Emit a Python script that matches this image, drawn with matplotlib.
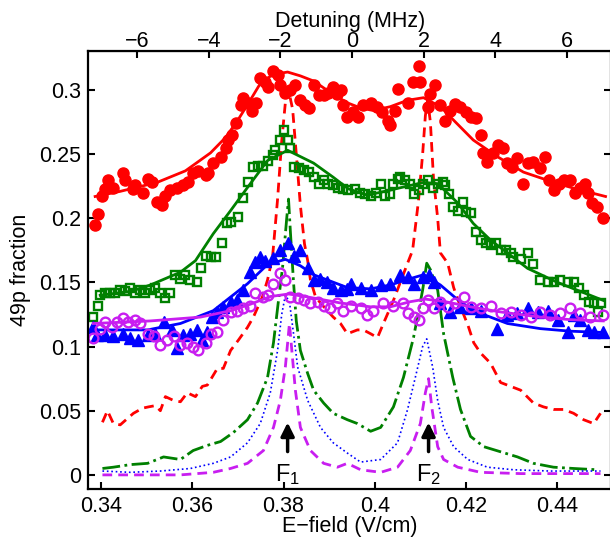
import numpy as np
import matplotlib
matplotlib.use("Agg")
import matplotlib.pyplot as plt

matplotlib.rcParams["font.family"] = ["Liberation Sans", "DejaVu Sans"]
matplotlib.rcParams["font.size"] = 15.5
matplotlib.rcParams["mathtext.default"] = "regular"

# red filled circles (data) and fit
red_x = [0.3387, 0.3394, 0.3403, 0.3409, 0.3416, 0.3427, 0.3447, 0.3453, 0.3469, 0.3475,
         0.3491, 0.3502, 0.3512, 0.3523, 0.3534, 0.3541, 0.3552, 0.3567, 0.3580, 0.3591,
         0.3602, 0.3613, 0.3629, 0.3635, 0.3646, 0.3662, 0.3673, 0.3679, 0.3688, 0.3695,
         0.3706, 0.3712, 0.3723, 0.3732, 0.3739, 0.3749, 0.3760, 0.3767, 0.3778, 0.3787,
         0.3793, 0.3804, 0.3815, 0.3826, 0.3837, 0.3848, 0.3855, 0.3866, 0.3877, 0.3888,
         0.3898, 0.3909, 0.3918, 0.3925, 0.3931, 0.3940, 0.3953, 0.3964, 0.3975, 0.3991,
         0.4006, 0.4017, 0.4028, 0.4034, 0.4045, 0.4052, 0.4072, 0.4083, 0.4096, 0.4100,
         0.4116, 0.4122, 0.4133, 0.4144, 0.4155, 0.4166, 0.4177, 0.4188, 0.4199, 0.4210,
         0.4221, 0.4232, 0.4238, 0.4247, 0.4260, 0.4271, 0.4282, 0.4291, 0.4302, 0.4313,
         0.4326, 0.4337, 0.4348, 0.4363, 0.4374, 0.4381, 0.4392, 0.4403, 0.4414, 0.4429,
         0.4440, 0.4451, 0.4462, 0.4468, 0.4477, 0.4488, 0.4501]
red_y = [0.195, 0.203, 0.217, 0.223, 0.230, 0.224, 0.235, 0.230, 0.223, 0.226,
         0.220, 0.231, 0.228, 0.213, 0.210, 0.217, 0.222, 0.224, 0.226, 0.228,
         0.235, 0.237, 0.234, 0.235, 0.243, 0.248, 0.255, 0.261, 0.265, 0.274,
         0.288, 0.294, 0.290, 0.284, 0.290, 0.309, 0.306, 0.302, 0.315, 0.312,
         0.304, 0.298, 0.300, 0.304, 0.292, 0.288, 0.286, 0.304, 0.296, 0.296,
         0.298, 0.302, 0.297, 0.300, 0.288, 0.279, 0.283, 0.279, 0.288, 0.290,
         0.287, 0.283, 0.276, 0.273, 0.284, 0.301, 0.290, 0.306, 0.319, 0.306,
         0.287, 0.297, 0.304, 0.288, 0.276, 0.284, 0.289, 0.287, 0.283, 0.279,
         0.278, 0.265, 0.251, 0.244, 0.251, 0.257, 0.255, 0.243, 0.240, 0.247,
         0.227, 0.243, 0.244, 0.239, 0.248, 0.230, 0.222, 0.227, 0.230, 0.230,
         0.220, 0.224, 0.227, 0.220, 0.212, 0.209, 0.200]
red_fit_x = [0.3387, 0.3442, 0.3523, 0.3585, 0.3640, 0.3673, 0.3699, 0.3727, 0.3749, 0.3776,
             0.3809, 0.3837, 0.3866, 0.3903, 0.3940, 0.3969, 0.3997, 0.4034, 0.4072, 0.4107,
             0.4144, 0.4177, 0.4216, 0.4269, 0.4326, 0.4401, 0.4451, 0.4506]
red_fit_y = [0.217, 0.221, 0.228, 0.237, 0.251, 0.263, 0.276, 0.292, 0.305, 0.312,
             0.314, 0.311, 0.307, 0.298, 0.290, 0.286, 0.284, 0.287, 0.292, 0.294,
             0.287, 0.275, 0.261, 0.248, 0.236, 0.227, 0.222, 0.217]

# green open squares and fit
grn_x = [0.3383, 0.3394, 0.3398, 0.3409, 0.3420, 0.3431, 0.3442, 0.3453, 0.3464, 0.3475,
         0.3486, 0.3497, 0.3508, 0.3519, 0.3530, 0.3541, 0.3552, 0.3563, 0.3574, 0.3585,
         0.3596, 0.3611, 0.3618, 0.3629, 0.3640, 0.3651, 0.3666, 0.3677, 0.3684, 0.3701,
         0.3712, 0.3723, 0.3734, 0.3745, 0.3756, 0.3767, 0.3776, 0.3782, 0.3793, 0.3800,
         0.3809, 0.3815, 0.3822, 0.3833, 0.3844, 0.3855, 0.3866, 0.3877, 0.3888, 0.3898,
         0.3909, 0.3920, 0.3931, 0.3942, 0.3957, 0.3968, 0.3979, 0.3991, 0.4002, 0.4013,
         0.4023, 0.4034, 0.4041, 0.4050, 0.4056, 0.4067, 0.4078, 0.4085, 0.4096, 0.4105,
         0.4116, 0.4127, 0.4138, 0.4149, 0.4155, 0.4162, 0.4171, 0.4182, 0.4193, 0.4199,
         0.4210, 0.4221, 0.4232, 0.4243, 0.4254, 0.4265, 0.4276, 0.4287, 0.4298, 0.4304,
         0.4320, 0.4337, 0.4346, 0.4363, 0.4379, 0.4392, 0.4407, 0.4423, 0.4436, 0.4447,
         0.4458, 0.4469, 0.4480, 0.4489, 0.4495]
grn_y = [0.123, 0.132, 0.140, 0.142, 0.142, 0.142, 0.144, 0.143, 0.146, 0.142,
         0.144, 0.142, 0.144, 0.146, 0.142, 0.138, 0.142, 0.156, 0.153, 0.156,
         0.152, 0.150, 0.161, 0.171, 0.170, 0.170, 0.181, 0.196, 0.197, 0.201,
         0.216, 0.228, 0.240, 0.241, 0.241, 0.245, 0.249, 0.253, 0.261, 0.269,
         0.261, 0.255, 0.240, 0.239, 0.238, 0.236, 0.232, 0.227, 0.230, 0.227,
         0.226, 0.224, 0.223, 0.222, 0.223, 0.220, 0.219, 0.217, 0.220, 0.227,
         0.217, 0.219, 0.227, 0.231, 0.232, 0.230, 0.227, 0.219, 0.222, 0.227,
         0.230, 0.224, 0.227, 0.228, 0.226, 0.219, 0.209, 0.206, 0.213, 0.205,
         0.204, 0.189, 0.183, 0.181, 0.179, 0.181, 0.175, 0.175, 0.173, 0.170,
         0.168, 0.173, 0.164, 0.152, 0.150, 0.150, 0.152, 0.150, 0.150, 0.146,
         0.140, 0.135, 0.134, 0.127, 0.134]
grn_fit_x = [0.3398, 0.3464, 0.3508, 0.3574, 0.3607, 0.3646, 0.3684, 0.3721, 0.3765, 0.3809,
             0.3866, 0.3909, 0.3942, 0.3984, 0.4034, 0.4107, 0.4138, 0.4182, 0.4216, 0.4254,
             0.4291, 0.4335, 0.4401, 0.4501]
grn_fit_y = [0.140, 0.143, 0.148, 0.158, 0.167, 0.188, 0.206, 0.224, 0.245, 0.253,
             0.243, 0.232, 0.223, 0.218, 0.222, 0.228, 0.227, 0.212, 0.196, 0.183,
             0.173, 0.161, 0.150, 0.136]

# blue filled triangles and fit
blu_x = [0.3383, 0.3392, 0.3409, 0.3427, 0.3447, 0.3464, 0.3482, 0.3502, 0.3519, 0.3537,
         0.3556, 0.3567, 0.3580, 0.3596, 0.3611, 0.3622, 0.3633, 0.3644, 0.3655, 0.3668,
         0.3684, 0.3699, 0.3712, 0.3727, 0.3738, 0.3749, 0.3760, 0.3776, 0.3793, 0.3809,
         0.3822, 0.3837, 0.3853, 0.3866, 0.3881, 0.3896, 0.3909, 0.3925, 0.3940, 0.3947,
         0.3969, 0.3991, 0.4013, 0.4034, 0.4056, 0.4072, 0.4085, 0.4105, 0.4118, 0.4129,
         0.4144, 0.4166, 0.4188, 0.4210, 0.4232, 0.4269, 0.4291, 0.4313, 0.4335, 0.4357,
         0.4379, 0.4401, 0.4423, 0.4436, 0.4451, 0.4467, 0.4480, 0.4501]
blu_y = [0.115, 0.109, 0.109, 0.108, 0.110, 0.107, 0.105, 0.109, 0.110, 0.119,
         0.113, 0.099, 0.109, 0.110, 0.113, 0.105, 0.111, 0.123, 0.127, 0.131,
         0.135, 0.136, 0.144, 0.158, 0.166, 0.170, 0.167, 0.169, 0.175, 0.181,
         0.171, 0.175, 0.161, 0.152, 0.153, 0.150, 0.146, 0.144, 0.145, 0.149,
         0.146, 0.144, 0.148, 0.149, 0.156, 0.154, 0.149, 0.154, 0.156, 0.150,
         0.134, 0.127, 0.131, 0.130, 0.128, 0.114, 0.125, 0.126, 0.130, 0.127,
         0.128, 0.121, 0.111, 0.125, 0.121, 0.113, 0.111, 0.111]
blu_fit_x = [0.3383, 0.3502, 0.3574, 0.3646, 0.3721, 0.3765, 0.3804, 0.3837, 0.3866, 0.3940,
             0.3991, 0.4034, 0.4078, 0.4107, 0.4144, 0.4177, 0.4216, 0.4291, 0.4363, 0.4429,
             0.4501]
blu_fit_y = [0.113, 0.113, 0.118, 0.128, 0.149, 0.164, 0.168, 0.163, 0.156, 0.146,
             0.145, 0.148, 0.153, 0.156, 0.148, 0.138, 0.128, 0.118, 0.114, 0.112,
             0.111]

# magenta open circles and fit
mag_x = [0.3383, 0.3398, 0.3409, 0.3425, 0.3436, 0.3447, 0.3458, 0.3475, 0.3486, 0.3502,
         0.3515, 0.3530, 0.3545, 0.3559, 0.3574, 0.3589, 0.3602, 0.3613, 0.3629, 0.3640,
         0.3655, 0.3668, 0.3684, 0.3699, 0.3712, 0.3727, 0.3738, 0.3754, 0.3767, 0.3778,
         0.3793, 0.3804, 0.3815, 0.3831, 0.3844, 0.3859, 0.3875, 0.3888, 0.3903, 0.3918,
         0.3931, 0.3947, 0.3969, 0.3984, 0.3997, 0.4019, 0.4041, 0.4061, 0.4072, 0.4085,
         0.4096, 0.4105, 0.4116, 0.4129, 0.4144, 0.4160, 0.4177, 0.4195, 0.4210, 0.4232,
         0.4254, 0.4276, 0.4298, 0.4320, 0.4342, 0.4363, 0.4385, 0.4407, 0.4429, 0.4451,
         0.4473, 0.4501]
mag_y = [0.107, 0.114, 0.119, 0.115, 0.119, 0.122, 0.119, 0.121, 0.118, 0.110,
         0.108, 0.101, 0.105, 0.108, 0.101, 0.103, 0.100, 0.097, 0.103, 0.110,
         0.111, 0.121, 0.127, 0.128, 0.130, 0.132, 0.142, 0.139, 0.140, 0.149,
         0.157, 0.152, 0.139, 0.138, 0.136, 0.134, 0.135, 0.132, 0.130, 0.134,
         0.128, 0.132, 0.130, 0.125, 0.128, 0.134, 0.132, 0.134, 0.126, 0.123,
         0.121, 0.130, 0.136, 0.130, 0.135, 0.131, 0.134, 0.139, 0.131, 0.130,
         0.132, 0.126, 0.127, 0.125, 0.123, 0.127, 0.125, 0.126, 0.130, 0.126,
         0.123, 0.125]
mag_fit_x = [0.3383, 0.3508, 0.3618, 0.3684, 0.3727, 0.3771, 0.3811, 0.3848, 0.3925, 0.3991,
             0.4034, 0.4078, 0.4111, 0.4155, 0.4210, 0.4276, 0.4363, 0.4429, 0.4501]
mag_fit_y = [0.118, 0.120, 0.123, 0.128, 0.133, 0.139, 0.141, 0.139, 0.134, 0.131,
             0.131, 0.135, 0.137, 0.135, 0.131, 0.127, 0.123, 0.121, 0.120]

# simulated spectra (lower curves)
rd_x = [0.3403, 0.3414, 0.3427, 0.3442, 0.3458, 0.3471, 0.3491, 0.3504, 0.3519, 0.3530,
        0.3541, 0.3559, 0.3574, 0.3589, 0.3607, 0.3622, 0.3633, 0.3655, 0.3668, 0.3684,
        0.3701, 0.3721, 0.3734, 0.3754, 0.3765, 0.3776, 0.3787, 0.3796, 0.3804, 0.3811,
        0.3820, 0.3828, 0.3837, 0.3846, 0.3853, 0.3859, 0.3870, 0.3881, 0.3896, 0.3909,
        0.3925, 0.3940, 0.3962, 0.3975, 0.3991, 0.4006, 0.4019, 0.4041, 0.4056, 0.4072,
        0.4083, 0.4096, 0.4105, 0.4111, 0.4116, 0.4122, 0.4129, 0.4138, 0.4144, 0.4160,
        0.4173, 0.4188, 0.4204, 0.4217, 0.4232, 0.4254, 0.4276, 0.4298, 0.4320, 0.4348,
        0.4370, 0.4392, 0.4414, 0.4436, 0.4458, 0.4480, 0.4495]
rd_y = [0.041, 0.050, 0.040, 0.039, 0.044, 0.048, 0.052, 0.053, 0.054, 0.050,
        0.061, 0.058, 0.057, 0.064, 0.061, 0.069, 0.070, 0.083, 0.083, 0.097,
        0.105, 0.115, 0.123, 0.139, 0.152, 0.170, 0.215, 0.260, 0.290, 0.300,
        0.285, 0.250, 0.210, 0.180, 0.167, 0.152, 0.139, 0.134, 0.128, 0.123,
        0.118, 0.110, 0.113, 0.113, 0.110, 0.107, 0.118, 0.136, 0.150, 0.165,
        0.175, 0.214, 0.250, 0.280, 0.292, 0.275, 0.230, 0.200, 0.173, 0.165,
        0.146, 0.131, 0.117, 0.103, 0.095, 0.087, 0.072, 0.069, 0.066, 0.056,
        0.053, 0.051, 0.051, 0.048, 0.043, 0.040, 0.048]

gd_x = [0.3403, 0.3427, 0.3464, 0.3502, 0.3537, 0.3574, 0.3602, 0.3633, 0.3662, 0.3690,
        0.3721, 0.3743, 0.3765, 0.3778, 0.3789, 0.3798, 0.3807, 0.3811, 0.3815, 0.3822,
        0.3828, 0.3837, 0.3853, 0.3866, 0.3888, 0.3909, 0.3940, 0.3962, 0.3991, 0.4013,
        0.4041, 0.4063, 0.4085, 0.4105, 0.4114, 0.4122, 0.4138, 0.4151, 0.4171, 0.4188,
        0.4210, 0.4239, 0.4276, 0.4313, 0.4348, 0.4392, 0.4436, 0.4488]
gd_y = [0.005, 0.006, 0.008, 0.009, 0.014, 0.012, 0.019, 0.023, 0.026, 0.033,
        0.043, 0.056, 0.076, 0.103, 0.136, 0.162, 0.200, 0.215, 0.190, 0.150,
        0.120, 0.097, 0.079, 0.066, 0.056, 0.048, 0.043, 0.040, 0.034, 0.037,
        0.053, 0.076, 0.107, 0.144, 0.165, 0.160, 0.144, 0.110, 0.076, 0.051,
        0.030, 0.022, 0.018, 0.014, 0.009, 0.006, 0.005, 0.004]

bd_x = [0.3403, 0.3464, 0.3530, 0.3596, 0.3646, 0.3684, 0.3721, 0.3749, 0.3771, 0.3787,
        0.3796, 0.3804, 0.3813, 0.3822, 0.3831, 0.3853, 0.3881, 0.3909, 0.3940, 0.3969,
        0.4013, 0.4050, 0.4072, 0.4089, 0.4105, 0.4114, 0.4127, 0.4138, 0.4151, 0.4173,
        0.4204, 0.4247, 0.4304, 0.4385, 0.4495]
bd_y = [0.003, 0.002, 0.003, 0.005, 0.009, 0.014, 0.025, 0.040, 0.064, 0.097,
        0.125, 0.140, 0.135, 0.110, 0.084, 0.058, 0.037, 0.025, 0.017, 0.010,
        0.012, 0.025, 0.051, 0.076, 0.100, 0.106, 0.084, 0.058, 0.037, 0.022,
        0.012, 0.006, 0.004, 0.003, 0.003]

md_x = [0.3403, 0.3502, 0.3574, 0.3646, 0.3684, 0.3721, 0.3756, 0.3778, 0.3793, 0.3804,
        0.3813, 0.3820, 0.3826, 0.3837, 0.3859, 0.3888, 0.3918, 0.3940, 0.3969, 0.4013,
        0.4050, 0.4078, 0.4100, 0.4111, 0.4118, 0.4125, 0.4138, 0.4151, 0.4182, 0.4232,
        0.4320, 0.4407, 0.4495]
md_y = [0.000, 0.000, 0.000, 0.002, 0.005, 0.009, 0.019, 0.037, 0.058, 0.084,
        0.118, 0.090, 0.066, 0.037, 0.019, 0.009, 0.006, 0.009, 0.004, 0.002,
        0.006, 0.019, 0.040, 0.064, 0.075, 0.053, 0.022, 0.012, 0.006, 0.002,
        0.001, 0.001, 0.001]

# resonance markers
f_pos = [0.3809, 0.4118]
f_names = ["F$_1$", "F$_2$"]

RED = "#ff0000"
GREEN = "#008000"
BLUE = "#0000ff"
MAG = "#c81ef0"

fig = plt.figure(figsize=(6.1, 5.42), dpi=100)
ax = fig.add_axes([88.3 / 610, 53 / 542, 522.7 / 610, 438 / 542])

ax.plot(rd_x, rd_y, color=RED, lw=2, dashes=(3.5, 2.2))
ax.plot(gd_x, gd_y, "-.", color=GREEN, lw=2)
ax.plot(bd_x, bd_y, ":", color=BLUE, lw=1.2)
ax.plot(md_x, md_y, color=MAG, lw=2, dashes=(3.5, 2.2))

ax.plot(red_x, red_y, "o", color=RED, ms=8, mec=RED)
ax.plot(red_fit_x, red_fit_y, "-", color=RED, lw=2)
ax.plot(grn_x, grn_y, "s", mfc="none", mec=GREEN, ms=5.5, mew=1.7)
ax.plot(grn_fit_x, grn_fit_y, "-", color=GREEN, lw=2)
ax.plot(blu_x, blu_y, "^", color=BLUE, ms=8)
ax.plot(blu_fit_x, blu_fit_y, "-", color=BLUE, lw=2)
ax.plot(mag_x, mag_y, "o", mfc="none", mec=MAG, ms=7, mew=1.7)
ax.plot(mag_fit_x, mag_fit_y, "-", color=MAG, lw=2)

for xp, name in zip(f_pos, f_names):
    ax.annotate("", xy=(xp, 0.043), xytext=(xp, 0.016),
                arrowprops=dict(arrowstyle="-|>", color="k", lw=2.5, mutation_scale=20))
    ax.text(xp, 0.0, name, ha="center", va="center", fontsize=17)

ax.set_xlim(0.3372, 0.4518)
ax.set_ylim(-0.011, 0.3304)
ax.set_xticks([0.34, 0.36, 0.38, 0.40, 0.42, 0.44])
ax.set_xticklabels(["0.34", "0.36", "0.38", "0.4", "0.42", "0.44"])
ax.set_yticks([0, 0.05, 0.1, 0.15, 0.2, 0.25, 0.3])
ax.set_yticklabels(["0", "0.05", "0.1", "0.15", "0.2", "0.25", "0.3"])
ax.tick_params(direction="in", right=True, top=False, length=5, width=1.5, pad=5)
for s in ax.spines.values():
    s.set_linewidth(1.6)
ax.set_xlabel("E\u2212field (V/cm)", labelpad=-1)
ax.set_ylabel("49p fraction", labelpad=6)

top = ax.secondary_xaxis("top", functions=(lambda e: (e - 0.395) / 0.00785,
                                           lambda d: d * 0.00785 + 0.395))
top.set_xticks([-6, -4, -2, 0, 2, 4, 6])
top.tick_params(direction="in", length=5, width=1.5, pad=-1)
top.set_xlabel("Detuning (MHz)", labelpad=3)

fig.savefig("out.png", dpi=100)
